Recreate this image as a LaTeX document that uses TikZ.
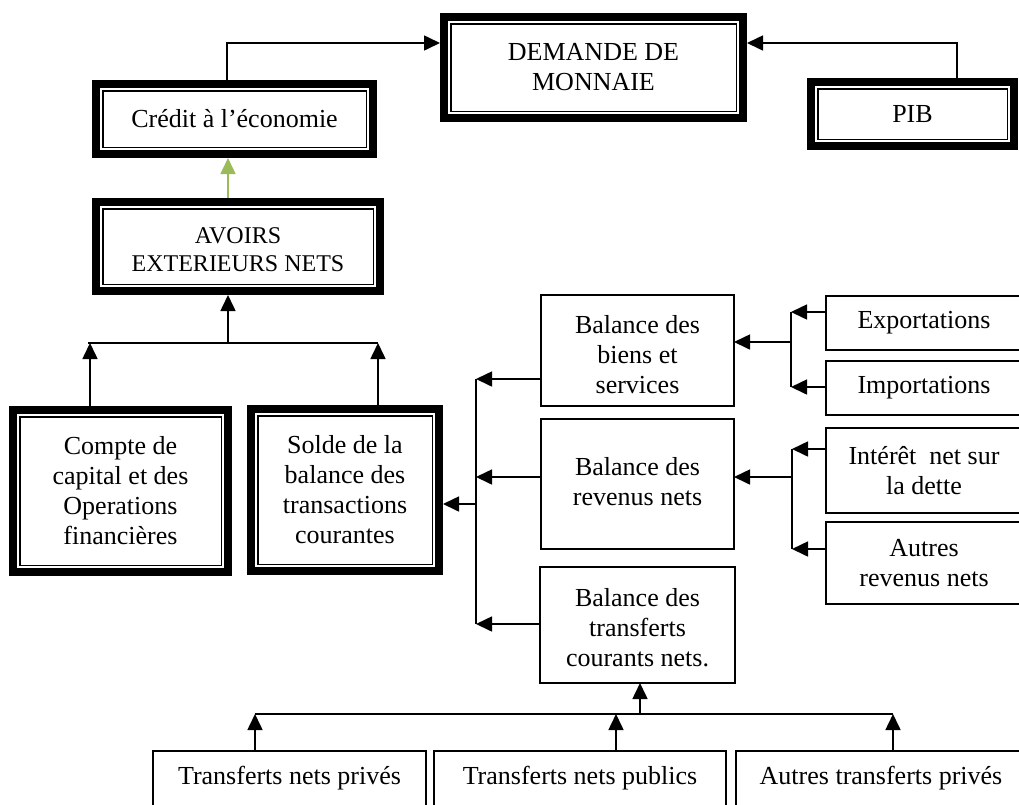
\documentclass[tikz,border=0pt]{standalone}
\usepackage{fontspec}
\setmainfont{Liberation Serif}
\usetikzlibrary{arrows.meta,fit}
\definecolor{grn}{RGB}{155,187,89}
\begin{document}
\begin{tikzpicture}[x=1pt,y=-1pt,
  frame/.style={inner sep=0pt, outer sep=0pt},
  sbox/.style={frame, draw, line width=1.5pt},
  txt/.style={font=\fontsize{26}{30}\selectfont, align=center, inner sep=0pt},
  conn/.style={line width=1.6pt},
  arr/.style={conn, -{Triangle[length=16pt,width=15pt]}},
  garr/.style={arr, color=grn}]
\useasboundingbox (0,0) rectangle (1019,804);
\fill[white] (0,0) rectangle (1019,804);
\clip (0,0) rectangle (1019,804);

% double-framed boxes
\node[frame, fit={(440,13) (747,122)}] (dem) {};
\node[frame, fit={(92,80) (377,158)}] (cred) {};
\node[frame, fit={(807,78) (1018,150)}] (pib) {};
\node[frame, fit={(92,198) (384,295)}] (avo) {};
\node[frame, fit={(9,406) (232,576)}] (cpt) {};
\node[frame, fit={(247,405) (443,575)}] (sol) {};
\foreach \n in {dem,cred,pib,avo,cpt,sol}{
  \draw[line width=8pt] ([shift={(4,4)}]\n.north west) rectangle ([shift={(-4,-4)}]\n.south east);
  \draw[line width=1.5pt] ([shift={(10.75,10.75)}]\n.north west) rectangle ([shift={(-10.75,-10.75)}]\n.south east);
}
\node[txt] (dem-t) at (dem) {DEMANDE DE\\MONNAIE};
\node[txt] (cred-t) at (cred) {Crédit à l’économie};
\node[txt] (pib-t) at (pib) {PIB};
\node[txt, font=\fontsize{24}{28}\selectfont] (avo-t) at ([yshift=-3pt]avo.center) {AVOIRS\\EXTERIEURS NETS};
\node[txt] (cpt-t) at (cpt) {Compte de\\capital et des\\Operations\\financières};
\node[txt] (sol-t) at (sol) {Solde de la\\balance des\\transactions\\courantes};

% single boxes
\node[sbox, fit={(541,295) (734,406)}] (biens) {};
\node[sbox, fit={(541,419) (734,549)}] (rev) {};
\node[sbox, fit={(540,567) (735,683)}] (transf) {};
\node[sbox, fit={(826,296) (1022,350)}] (exp) {};
\node[sbox, fit={(826,361) (1022,415)}] (imp) {};
\node[sbox, fit={(826,428) (1022,513)}] (int) {};
\node[sbox, fit={(826,522) (1022,604)}] (aut) {};
\node[sbox, fit={(153,751) (426,806)}] (p1) {};
\node[sbox, fit={(434,751) (726,806)}] (p2) {};
\node[sbox, fit={(736,751) (1026,806)}] (p3) {};
\node[txt] (biens-t) at ([yshift=-4pt]biens.center) {Balance des\\biens et\\services};
\node[txt] (rev-t) at ([yshift=2pt]rev.center) {Balance des\\revenus nets};
\node[txt] (transf-t) at ([yshift=-3pt]transf.center) {Balance des\\transferts\\courants nets.};
\node[txt] (exp-t) at (exp) {Exportations};
\node[txt] (imp-t) at (imp) {Importations};
\node[txt] (int-t) at (int) {Intérêt\ \ net sur\\la dette};
\node[txt] (aut-t) at (aut) {Autres\\revenus nets};
\node[txt] (p1-t) at (p1) {Transferts nets privés};
\node[txt] (p2-t) at (p2) {Transferts nets publics};
\node[txt] (p3-t) at (p3) {Autres transferts privés};

% top connectors
\coordinate (tL) at (227,43);
\coordinate (tR) at (957,43);
\draw[arr] (cred.north -| tL) -- (tL) -- (dem.west |- tL);
\draw[arr] (pib.north -| tR) -- (tR) -- (dem.east |- tR);
\coordinate (g) at (228,180);
\draw[garr] (avo.north -| g) -- (cred.south -| g);

% avoirs junction
\coordinate (hL) at (88,343);
\coordinate (cA) at (90,343);
\coordinate (hA) at (228,343);
\coordinate (cB) at (378,343);
\draw[conn] (hL) -- (cB);
\draw[arr] (hA) -- (avo.south -| hA);
\draw[arr] (cpt.north -| cA) -- (cA);
\draw[arr] (sol.north -| cB) -- (cB);

% balance bus
\coordinate (b1t) at (476,379);
\coordinate (b1r) at (476,477);
\coordinate (b1s) at (476,504);
\coordinate (b1b) at (476,624);
\draw[conn] (b1t) -- (b1b);
\draw[arr] (biens.west |- b1t) -- (b1t);
\draw[arr] (rev.west |- b1r) -- (b1r);
\draw[arr] (transf.west |- b1b) -- (b1b);
\draw[arr] (b1s) -- (sol.east |- b1s);

% biens bus
\coordinate (e1) at (791,312);
\coordinate (e3) at (791,342);
\coordinate (e2) at (791,387);
\draw[conn] (e1) -- (e2);
\draw[arr] (exp.west |- e1) -- (e1);
\draw[arr] (imp.west |- e2) -- (e2);
\draw[arr] (e3) -- (biens.east |- e3);

% revenus bus
\coordinate (r1) at (792,449);
\coordinate (r3) at (792,477);
\coordinate (r2) at (792,549);
\draw[conn] (r1) -- (r2);
\draw[arr] (int.west |- r1) -- (r1);
\draw[arr] (aut.west |- r2) -- (r2);
\draw[arr] (r3) -- (rev.east |- r3);

% transferts bus
\coordinate (t1) at (255,714);
\coordinate (t2) at (616,714);
\coordinate (tm) at (640,714);
\coordinate (t3) at (893,714);
\draw[conn] (t1) -- (t3);
\draw[arr] (p1.north -| t1) -- (t1);
\draw[arr] (p2.north -| t2) -- (t2);
\draw[arr] (p3.north -| t3) -- (t3);
\draw[arr] (tm) -- (transf.south -| tm);
\end{tikzpicture}
\end{document}
